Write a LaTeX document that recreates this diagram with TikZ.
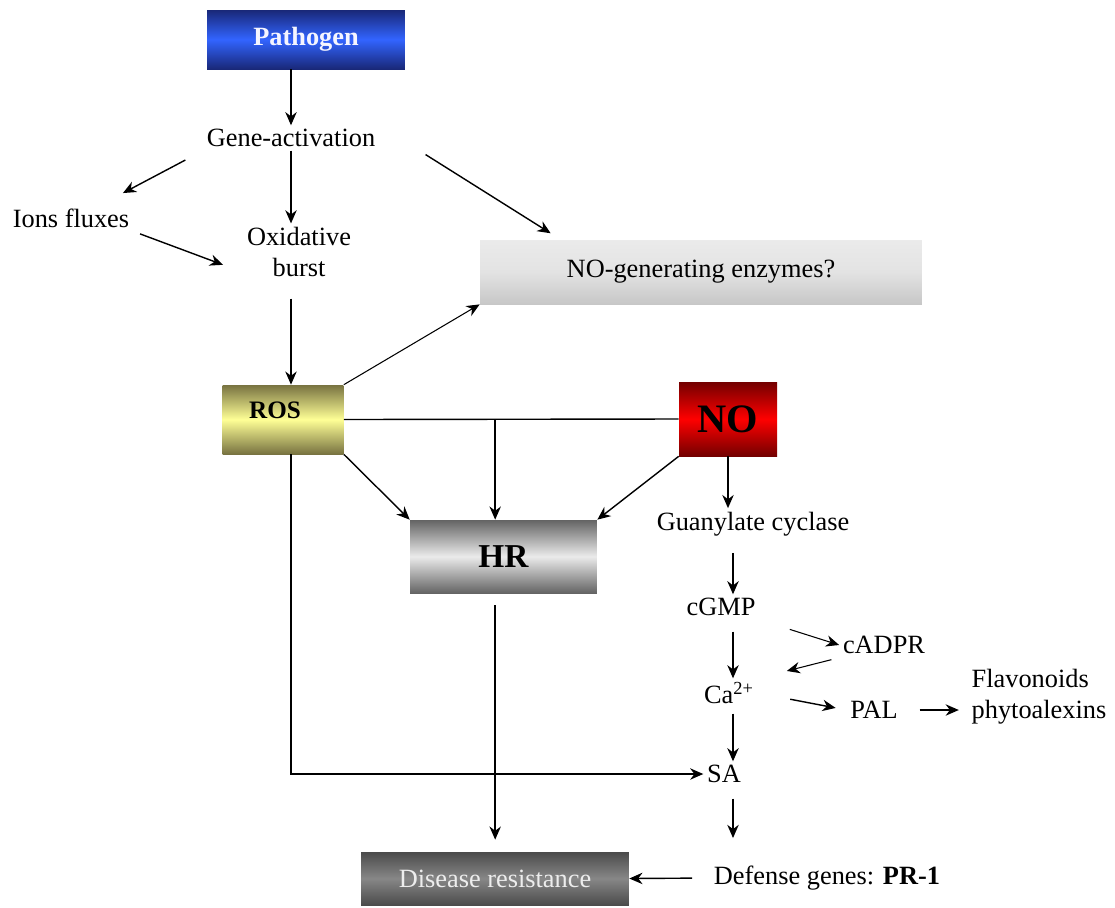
\documentclass[tikz,border=0pt]{standalone}
\usepackage{fontspec}
\setmainfont{Liberation Serif}
\usepackage{tikz}
\usetikzlibrary{arrows.meta,calc}

\definecolor{pathDark}{RGB}{25,40,120}
\definecolor{pathLight}{RGB}{50,100,255}
\definecolor{rosDark}{RGB}{120,115,65}
\definecolor{rosLight}{RGB}{255,255,150}
\definecolor{noDark}{RGB}{115,0,0}
\definecolor{noLight}{RGB}{255,0,0}
\definecolor{hrDark}{RGB}{100,100,100}
\definecolor{hrLight}{RGB}{235,235,235}
\definecolor{drDark}{RGB}{75,75,75}
\definecolor{drLight}{RGB}{135,135,135}

\begin{document}
\begin{tikzpicture}[x=0.02cm,y=-0.02cm]
		\useasboundingbox (0,0) rectangle (1115,907);

		% boxes
		\begin{scope}[every node/.style={rectangle,inner sep=0pt,font=\fontsize{15}{18}\selectfont}]
			\node[top color=pathDark,bottom color=pathDark,middle color=pathLight,
				minimum width=3.96cm,minimum height=1.18cm,text=blue!4] (path) at (306,39.5) {\textbf{Pathogen}};
			\node[top color=black!8,bottom color=black!22,middle color=black!11,
				minimum width=8.84cm,minimum height=1.28cm] (noe) at (701,272) {NO-generating enzymes?};
			\node[top color=rosDark,bottom color=rosDark,middle color=rosLight,
				minimum width=2.42cm,minimum height=1.38cm,
				label={[xshift=-0.16cm,yshift=0.19cm,font=\fontsize{14.3}{17}\selectfont]center:\textbf{ROS}}] (ROS) at (283,419.5) {};
			\node[top color=noDark,bottom color=noDark,middle color=noLight,
				minimum width=1.96cm,minimum height=1.48cm,font=\fontsize{23}{27}\selectfont] (NO) at (728,419) {\textbf{NO}};
			\node[top color=hrDark,bottom color=hrDark,middle color=hrLight,
				minimum width=3.74cm,minimum height=1.46cm,font=\fontsize{19}{23}\selectfont] (HR) at (503.5,556.5) {\textbf{HR}};
			\node[top color=drDark,bottom color=drDark,middle color=drLight,
				minimum width=5.36cm,minimum height=1.06cm,text=black!7] (dr) at (495,878.5) {Disease resistance};
		\end{scope}

		% plain labels
		\begin{scope}[every node/.style={inner sep=2pt,font=\fontsize{15}{17.6}\selectfont}]
			\node (gene) at (291,138) {Gene-activation};
			\node (ions) at (71,218) {Ions fluxes};
			\node[align=center] (ox) at (299,252) {Oxidative\\burst};
			\node (gc) at (753,524) {Guanylate cyclase};
			\node (cgmp) at (721,607) {cGMP};
			\node (cadpr) at (884,645) {cADPR};
			\node (ca) at (729,693) {Ca\textsuperscript{2+}};
			\node (pal) at (874,710) {PAL};
			\node[align=left] (flav) at (1039,697) {Flavonoids\\phytoalexins};
			\node (sa) at (724,774) {SA};
			\node (def) at (827,878) {Defense genes: \textbf{PR-1}};
		\end{scope}

		\coordinate (junc) at ($(ROS.east)!0.452!(NO.west)$);
		\coordinate (col) at (733,0);

		\begin{scope}[>={Stealth[length=7.5pt,width=6.5pt]},
			every edge/.style={draw,line width=0.8pt}]
			\path [->] (path.south -| gene.north) edge (gene.north);
			\path [->] (gene.south west) edge[shorten <=0.4cm,shorten >=0.5cm] (ions.24);
			\path [->] (gene.south) edge (gene.south |- ox.north);
			\path [->] (ions.south east) edge[shorten <=0.15cm,shorten >=0.43cm] (ox.200);
			\path [->] (gene.north east) edge[shorten <=1.1cm,shorten >=0.24cm] (noe.167);
			\path [->] (ox.south -| gene.south) edge[shorten <=0.36cm] (ROS.north -| gene.south);
			\path [->] (ROS.north east) edge[line width=0.6pt] (noe.south west);
			\path [-] (ROS.east) edge (NO.west);
			\path [->] (junc) edge (junc |- HR.north);
			\path [->] (ROS.south east) edge (HR.north west);
			\path [->] (NO.south west) edge (HR.north east);
			\path [->] (NO.south) edge (NO.south |- gc.north);
			\path [->] (gc.south -| col) edge[shorten <=0.26cm] (cgmp.north -| col);
			\path [->] (cgmp.south -| col) edge[shorten <=0.24cm] (ca.north -| col);
			\path [->] (cgmp.south east) edge[line width=0.6pt,shorten <=0.64cm] (cadpr.west);
			\path [->] (cadpr.south west) edge[line width=0.6pt,shorten <=0.16cm,shorten >=0.6cm] (ca.north east);
			\path [->] (ca.east) edge[shorten <=0.66cm,shorten >=0.22cm] (pal.west);
			\path [->] (pal.east) edge[shorten <=0.36cm,shorten >=0.18cm] (pal.east -| flav.west);
			\path [->] (ca.south -| col) edge[shorten <=0.12cm] (sa.north -| col);
			\path [->] (sa.south -| col) edge[shorten <=0.24cm,shorten >=0.48cm] (def.north -| col);
			\path [->] (def.west) edge[shorten <=0.36cm] (dr.east);
			\path [->] (HR.south -| junc) edge[shorten <=0.24cm,shorten >=0.24cm] (dr.north -| junc);
			\draw [->,line width=0.8pt] (ROS.south -| gene.south) |- (sa.west);
		\end{scope}
	\end{tikzpicture}
\end{document}
